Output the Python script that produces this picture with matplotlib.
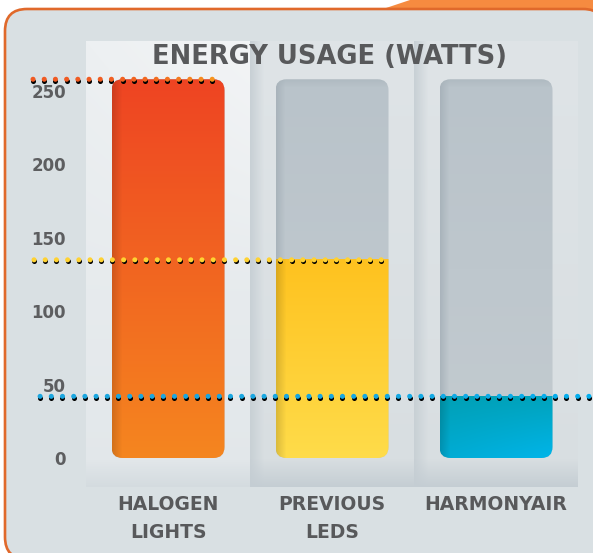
import numpy as np
import matplotlib
matplotlib.use("Agg")
import matplotlib.pyplot as plt
from matplotlib.patches import FancyBboxPatch, Polygon
from matplotlib.colors import to_rgb
from matplotlib.transforms import offset_copy

# data
categories = ["HALOGEN\nLIGHTS", "PREVIOUS\nLEDS", "HARMONYAIR"]
watts = [258, 135, 42]
y_ticks = [0, 50, 100, 150, 200, 250]
title = "ENERGY USAGE (WATTS)"

fill_top = ["#EE4423", "#FEC21F", "#00A3BC"]
fill_bottom = ["#F5861F", "#FFDC4A", "#00B5EA"]
dot_col = [("#F05A22", "#F7941D"), ("#FFD232", "#FFD232"), ("#1BA6DF", "#00AEEF")]
text_col = "#58595B"

W, H = 593, 553
fig = plt.figure(figsize=(W / 100, H / 100), dpi=100)
fig.patch.set_facecolor("white")

# background card
bg = fig.add_axes([0, 0, 1, 1])
bg.set_xlim(0, W)
bg.set_ylim(H, 0)
bg.axis("off")
bg.add_patch(Polygon([(380, 10), (410, 0), (W + 10, 0), (W + 10, 40), (380, 40)],
                     closed=True, facecolor="#F68B40", edgecolor="none"))
bg.add_patch(FancyBboxPatch((5, 9), 600, 550, boxstyle="round,pad=0,rounding_size=22",
                            facecolor="#D9E0E3", edgecolor="#E0692B", linewidth=1.9))

# panel axes (pixel layout)
px_per_w = 1.468
col_px = 164
left_px, top_px, bot_px, zero_px = 86, 41, 487, 458
right_px = left_px + 3 * col_px
ax = fig.add_axes([left_px / W, 1 - bot_px / H, (right_px - left_px) / W, (bot_px - top_px) / H])
ax.patch.set_visible(False)
ymin = -(bot_px - zero_px) / px_per_w
ymax = (zero_px - top_px) / px_per_w


def lerp(c0, c1, t):
    c0 = np.array(to_rgb(c0))
    c1 = np.array(to_rgb(c1))
    t = np.asarray(t, dtype=float)[..., None]
    return c0 + (c1 - c0) * t


# panel columns
ph = bot_px - top_px
v = np.arange(ph)[:, None] * np.ones((1, col_px))
x = np.ones((ph, 1)) * np.arange(col_px)[None, :]
shadow_w = np.clip((v - (zero_px - top_px)) / (bot_px - zero_px), 0, 1)
for i in range(3):
    if i == 0:
        img = lerp("#EDF0F2", "#E2E7EA", v / ph)
        img = img + (lerp("#F6F7F8", "#F6F7F8", v) - img) * (np.clip(x / col_px, 0, 1) * np.clip(1 - v / 250, 0, 1) * 0.6)[..., None]
        img = img + (lerp("#D4DBDF", "#D4DBDF", v) - img) * shadow_w[..., None]
    else:
        img = lerp("#DFE4E7", "#D8DEE1", v / ph)
        img = img + (lerp("#C8D0D5", "#C8D0D5", v) - img) * np.clip(1 - x / 14, 0, 1)[..., None]
        img = img + (lerp("#C4CDD3", "#C4CDD3", v) - img) * shadow_w[..., None]
    ax.imshow(np.clip(img, 0, 1), extent=[i - 0.5, i + 0.5, ymin, ymax], origin="upper",
              aspect="auto", interpolation="bilinear", zorder=0)

# bars: grey track + coloured fill
bar_px = 113
hw = bar_px / col_px / 2
rad = 11 / col_px
asp = col_px / px_per_w
track_top = max(watts)
th = int(round(track_top * px_per_w))
tv = np.arange(th)[:, None] * np.ones((1, bar_px))
tx = np.ones((th, 1)) * np.arange(bar_px)[None, :]
for i, val in enumerate(watts):
    track = FancyBboxPatch((i - hw, 0), 2 * hw, track_top,
                           boxstyle=f"round,pad=0,rounding_size={rad}",
                           mutation_aspect=asp, facecolor="none", edgecolor="none",
                           transform=ax.transData)
    ax.add_patch(track)
    timg = lerp("#B9C3CA", "#C3CBD0", tv / th)
    timg = timg + (lerp("#A5B0B8", "#A5B0B8", tv) - timg) * (np.clip(1 - tx / 9, 0, 1) * 0.8)[..., None]
    timg = timg + (lerp("#A9B4BB", "#A9B4BB", tv) - timg) * (np.clip(1 - tv / 8, 0, 1) * 0.6)[..., None]
    im = ax.imshow(np.clip(timg, 0, 1), extent=[i - hw, i + hw, 0, track_top], origin="upper",
                   aspect="auto", interpolation="bilinear", zorder=1)
    im.set_clip_path(track)

    fh = max(int(round(val * px_per_w)), 2)
    fv = np.arange(fh)[:, None] * np.ones((1, bar_px))
    fx = np.ones((fh, 1)) * np.arange(bar_px)[None, :]
    fimg = lerp(fill_top[i], fill_bottom[i], fv / fh)
    if i == 2:
        fimg = fimg + (lerp("#009AAA", "#009AAA", fv) - fimg) * ((1 - fx / bar_px) * 0.35)[..., None]
    dark = fimg * 0.86
    fimg = fimg + (dark - fimg) * np.clip(1 - fx / 10, 0, 1)[..., None]
    im = ax.imshow(np.clip(fimg, 0, 1), extent=[i - hw, i + hw, 0, val], origin="upper",
                   aspect="auto", interpolation="bilinear", zorder=2)
    im.set_clip_path(track)

# dotted guide lines
step = 11.2 / col_px
dot_start = [-0.823, -0.817, -0.78]
dot_end = [i + hw - 0.02 for i in range(3)]
dot_end[-1] = 2.65
shadow_tr = offset_copy(ax.transData, fig=fig, x=0, y=-1.6, units="dots")
for i, val in enumerate(watts):
    xs = np.arange(dot_start[i], dot_end[i], step)
    ys = np.full_like(xs, val)
    cols = lerp(dot_col[i][0], dot_col[i][1], np.linspace(0, 1, len(xs)) ** 3)
    ax.scatter(xs, ys, s=13, color="black", linewidths=0, transform=shadow_tr, zorder=5, clip_on=False)
    ax.scatter(xs, ys, s=13, c=cols, linewidths=0, zorder=6, clip_on=False)

# axes cosmetics
ax.set_xlim(-0.5, 2.5)
ax.set_ylim(ymin, ymax)
for s in ax.spines.values():
    s.set_visible(False)
ax.set_yticks(y_ticks)
ax.set_yticklabels([str(t) for t in y_ticks], fontsize=12, fontweight="bold", color="#5D5E60")
ax.set_xticks(range(len(categories)))
ax.set_xticklabels(categories, fontsize=13.5, fontweight="bold", color=text_col, va="top")
for lbl in ax.get_xticklabels():
    lbl.set_linespacing(1.6)
ax.tick_params(axis="y", length=0, pad=14.4)
ax.tick_params(axis="x", length=0, pad=5.5)

ax.text(0.985, 1 - (64 - top_px) / ph, title, transform=ax.get_xaxis_transform(),
        ha="center", va="baseline", fontsize=18.5, fontweight="bold", color=text_col)

fig.savefig("out.png", dpi=100)
